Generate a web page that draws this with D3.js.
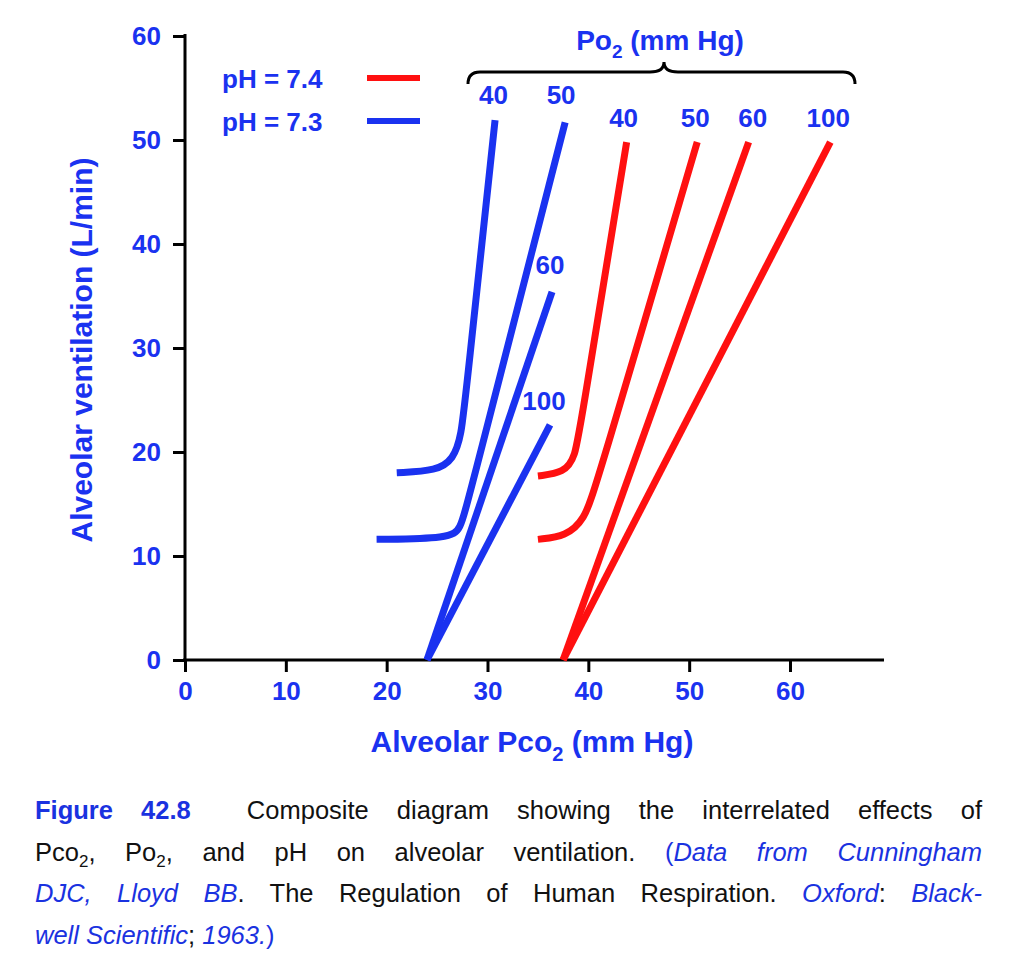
<!DOCTYPE html>
<html><head><meta charset="utf-8">
<script src="https://cdn.jsdelivr.net/npm/d3@7"></script>
<style>
body{margin:0;background:#fff;}
.cap{position:absolute;left:35px;top:790px;width:947px;font-family:"Liberation Sans",Arial,sans-serif;font-size:25.5px;color:#111}
.cap div{height:41.5px;line-height:41.5px;text-align:justify;text-align-last:justify;white-space:nowrap}
.cap div.last{text-align-last:left}
.cap b{color:#1a32e0}
.cap i,.cap .bl{color:#1a32e0}
.cap sub{font-size:17px;line-height:0}
</style></head>
<body>
<div id="chart"></div>
<div class="cap">
<div><b>Figure 42.8</b>&nbsp; Composite diagram showing the interrelated effects of</div>
<div>Pco<sub>2</sub>, Po<sub>2</sub>, and pH on alveolar ventilation. <span class="bl">(</span><i>Data from Cunningham</i></div>
<div><i>DJC, Lloyd BB</i>. The Regulation of Human Respiration. <i>Oxford</i>: <i>Black-</i></div>
<div class="last"><i>well Scientific</i>; <i>1963.</i><span class="bl">)</span></div>
</div>
<script>
// curves: [Pco2, ventilation]
const blue40 = [[21,18],[25,18.2],[26.6,19.3],[27.4,21.5],[27.9,26],[30.75,51.9]];
const blue50 = [[19,11.6],[26.3,11.7],[27.3,12.6],[28.0,15],[37.7,51.7]];
const blue60 = [[24,0],[36.4,35.4]];
const blue100 = [[24,0],[36.2,22.6]];
const red40 = [[35,17.7],[37.6,18],[38.7,19.5],[39.3,23],[43.8,49.8]];
const red50 = [[35,11.6],[37.8,11.9],[39.6,13.5],[40.7,16.5],[50.8,49.8]];
const red60 = [[37.5,0],[55.9,49.8]];
const red100 = [[37.5,0],[64,49.8]];
const xTicks = [0,10,20,30,40,50,60];
const yTicks = [0,10,20,30,40,50,60];
const blueLabels = [["40",30.6,54.3],["50",37.3,54.3],["60",36.2,38],["100",35.6,24.9]];
const redLabels = [["40",43.5,52.1],["50",50.6,52.1],["60",56.3,52.1],["100",63.8,52.1]];

const blue = "#1a32f0", red = "#ff1010";
const W = 1024, H = 974;
const svg = d3.select('#chart').append('svg').attr('width', W).attr('height', H);
const x = d3.scaleLinear().domain([0,60]).range([185,790]);
const y = d3.scaleLinear().domain([0,60]).range([660,36]);
const font = '"Liberation Sans",Arial,sans-serif';

svg.append('g').attr('transform','translate(0,660)')
  .call(d3.axisBottom(x).tickValues(xTicks).tickSize(12).tickPadding(10))
  .call(g => g.select('.domain').attr('d','M183,0H884'));
svg.append('g').attr('transform','translate(185,0)')
  .call(d3.axisLeft(y).tickValues(yTicks).tickSize(12).tickPadding(12))
  .call(g => g.select('.domain').attr('d','M0,662V34'));
svg.selectAll('.domain, .tick line').attr('stroke','#000').attr('stroke-width',3);
svg.selectAll('.tick text').attr('fill',blue).style('font-family',font).style('font-size','26px').style('font-weight','bold');

const line = d3.line().x(d => x(d[0])).y(d => y(d[1]));
const lineX = d3.line().x(d => x(d[0])).y(d => y(d[1])).curve(d3.curveBasis);
[[blue40,blue],[blue50,blue],[blue60,blue],[blue100,blue],[red40,red],[red50,red],[red60,red],[red100,red]].forEach(([d,c]) => {
  svg.append('path').datum(d).attr('d', d.length > 2 ? lineX(d) : line(d))
    .attr('fill','none').attr('stroke',c).attr('stroke-width',7);
});

const lab = (t,px,py,anchor) => svg.append('text').attr('x',px).attr('y',py).attr('text-anchor',anchor||'middle')
  .attr('fill',blue).style('font-family',font).style('font-size','26px').style('font-weight','bold').text(t);
blueLabels.concat(redLabels).forEach(d => lab(d[0], x(d[1]), y(d[2])+9));

// legend
lab('pH = 7.4', 222, 88, 'start');
lab('pH = 7.3', 222, 131, 'start');
svg.append('line').attr('x1',367).attr('x2',420).attr('y1',78).attr('y2',78).attr('stroke',red).attr('stroke-width',6);
svg.append('line').attr('x1',367).attr('x2',420).attr('y1',121).attr('y2',121).attr('stroke',blue).attr('stroke-width',6);

// brace
svg.append('path').attr('d','M468,84 Q468,72 480,72 L650,72 Q664,72 664,62 Q664,72 678,72 L843,72 Q855,72 855,84')
  .attr('fill','none').attr('stroke','#000').attr('stroke-width',3);
const po = svg.append('text').attr('x',660).attr('y',50).attr('text-anchor','middle').attr('fill',blue)
  .style('font-family',font).style('font-size','28px').style('font-weight','bold');
po.append('tspan').text('Po');
po.append('tspan').attr('dy',8).style('font-size','19px').text('2');
po.append('tspan').attr('dy',-8).text(' (mm Hg)');

// axis titles
const xt = svg.append('text').attr('x',532).attr('y',752).attr('text-anchor','middle').attr('fill',blue)
  .style('font-family',font).style('font-size','30px').style('font-weight','bold');
xt.append('tspan').text('Alveolar Pco');
xt.append('tspan').attr('dy',9).style('font-size','20px').text('2');
xt.append('tspan').attr('dy',-9).text(' (mm Hg)');
svg.append('text').attr('transform','translate(92,350) rotate(-90)').attr('text-anchor','middle').attr('fill',blue)
  .style('font-family',font).style('font-size','30px').style('font-weight','bold').text('Alveolar ventilation (L/min)');
</script>
</body></html>
